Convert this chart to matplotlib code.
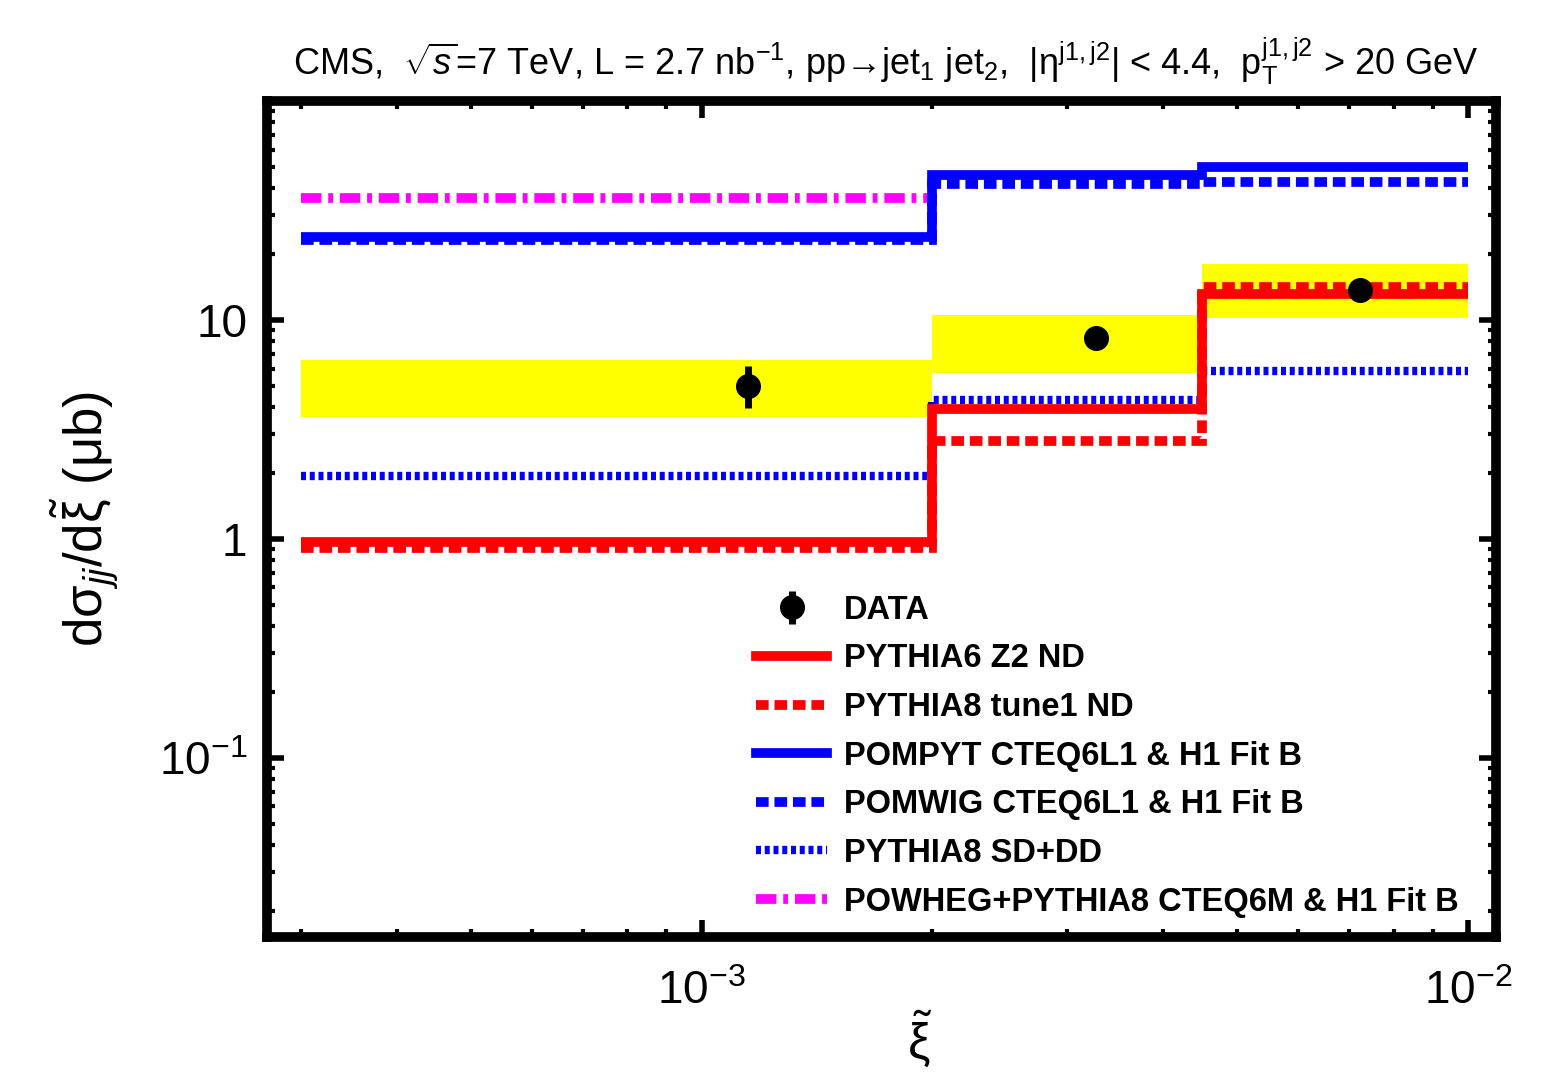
import numpy as np
import matplotlib
matplotlib.use("Agg")
import matplotlib.pyplot as plt
from matplotlib.ticker import FixedLocator, FixedFormatter, NullFormatter

plt.rcParams['font.family'] = ['Liberation Sans', 'DejaVu Sans']
plt.rcParams['mathtext.fontset'] = 'custom'
plt.rcParams['mathtext.rm'] = 'Liberation Sans'
plt.rcParams['mathtext.it'] = 'Liberation Sans:italic'
plt.rcParams['mathtext.bf'] = 'Liberation Sans:bold'

# xi bin edges
edges = [3e-4, 2e-3, 4.5e-3, 1e-2]

# data points
data_x = [1.15e-3, 3.27e-3, 7.23e-3]
data_y = [5.0, 8.27, 13.7]
data_err_lo = [1.03, 0.35, 0.5]
data_err_hi = [1.17, 0.35, 0.5]

# systematic band
band_lo = [3.61, 5.73, 10.2]
band_hi = [6.56, 10.5, 18.0]

# MC predictions
pythia6_z2 = [0.964, 3.90, 13.1]
pythia8_tune1 = [0.91, 2.79, 14.2]
pompyt = [24.0, 45.7, 50.0]
pomwig = [23.2, 41.8, 42.7]
pythia8_sddd = [1.93, 4.32, 5.85]
powheg = [36.1]

fig = plt.figure(figsize=(15.51, 10.79), dpi=100)
ax = fig.add_axes([0.1721, 0.1316, 0.7925, 0.7748])
ax.set_xscale('log')
ax.set_yscale('log')

# yellow systematic band
ax.stairs(band_hi, edges, baseline=band_lo, fill=True, color='#ffff00', zorder=1)

lw = 7
ax.stairs(pythia8_sddd, edges, color='#0000ff', lw=6, linestyle=(0, (0.6, 0.45)),
          baseline=None, zorder=2, label='PYTHIA8 SD+DD')
ax.stairs(powheg, edges[:2], color='#ff00ff', lw=lw, linestyle=(0, (2.1, 0.7, 0.5, 0.7)),
          baseline=None, zorder=2, label='POWHEG+PYTHIA8 CTEQ6M & H1 Fit B')
ax.stairs(pomwig, edges, color='#0000ff', lw=lw, linestyle=(0, (1.3, 0.6)),
          baseline=None, zorder=3, label='POMWIG CTEQ6L1 & H1 Fit B')
ax.stairs(pompyt, edges, color='#0000ff', lw=lw, baseline=None, zorder=4,
          label='POMPYT CTEQ6L1 & H1 Fit B')
ax.stairs(pythia8_tune1, edges, color='#ff0000', lw=lw, linestyle=(0, (1.3, 0.6)),
          baseline=None, zorder=3, label='PYTHIA8 tune1 ND')
ax.stairs(pythia6_z2, edges, color='#ff0000', lw=lw, baseline=None, zorder=4,
          label='PYTHIA6 Z2 ND')

ax.errorbar(data_x, data_y, yerr=[data_err_lo, data_err_hi], fmt='o', color='black',
            ms=17, elinewidth=5, capsize=0, zorder=6, label='DATA')

ax.set_xlim(2.71e-4, 1.088e-2)
ax.set_ylim(0.0152, 100)

for s in ax.spines.values():
    s.set_linewidth(7)

ax.xaxis.set_major_locator(FixedLocator([1e-3, 1e-2]))
ax.xaxis.set_major_formatter(FixedFormatter([r'$10^{-3}$', r'$10^{-2}$']))
ax.xaxis.set_minor_locator(FixedLocator([k * 10.0**e for e in (-4, -3, -2) for k in range(2, 10)]))
ax.xaxis.set_minor_formatter(NullFormatter())
ax.yaxis.set_major_locator(FixedLocator([0.1, 1, 10]))
ax.yaxis.set_major_formatter(FixedFormatter([r'$10^{-1}$', '1', '10']))
ax.yaxis.set_minor_locator(FixedLocator([k * 10.0**e for e in (-2, -1, 0, 1) for k in range(2, 10)]))
ax.yaxis.set_minor_formatter(NullFormatter())
ax.tick_params(which='both', direction='in', top=True, right=True)
ax.tick_params(which='major', length=12, width=4, labelsize=33)
ax.tick_params(axis='y', which='major', pad=14)
ax.tick_params(axis='x', which='major', pad=24)
ax.tick_params(which='minor', length=6, width=3)

ax.set_ylabel(r'd$\mathrm{\sigma}_{jj}$/d$\tilde{\mathrm{\xi}}$ ($\mathrm{\mu}$b)', fontsize=38)
ax.yaxis.set_label_coords(-0.118, 0.5)
ax.set_xlabel(r'$\tilde{\mathrm{\xi}}$', fontsize=36)
ax.xaxis.set_label_coords(0.531, -0.085)

fig.text(0.571, 0.943,
         r'CMS,  $\sqrt{s}$=7 TeV, L = 2.7 nb$^{-1}$, pp→jet$_1$ jet$_2$,  '
         r'|$\mathrm{\eta}^{\mathrm{j1,j2}}$| < 4.4,  p$_\mathrm{T}^\mathrm{j1,j2}$ > 20 GeV',
         ha='center', va='center', fontsize=26)

handles, labels = ax.get_legend_handles_labels()
order = ['DATA', 'PYTHIA6 Z2 ND', 'PYTHIA8 tune1 ND', 'POMPYT CTEQ6L1 & H1 Fit B',
         'POMWIG CTEQ6L1 & H1 Fit B', 'PYTHIA8 SD+DD', 'POWHEG+PYTHIA8 CTEQ6M & H1 Fit B']
hmap = dict(zip(labels, handles))
leg = ax.legend([hmap[o] for o in order], order, loc='upper left',
                bbox_to_anchor=(0.387, 0.425), frameon=False,
                prop={'weight': 'bold', 'size': 23.5}, handlelength=2.2,
                handletextpad=0.5, labelspacing=0.54, borderaxespad=0)

fig.savefig('out.png', dpi=100)
